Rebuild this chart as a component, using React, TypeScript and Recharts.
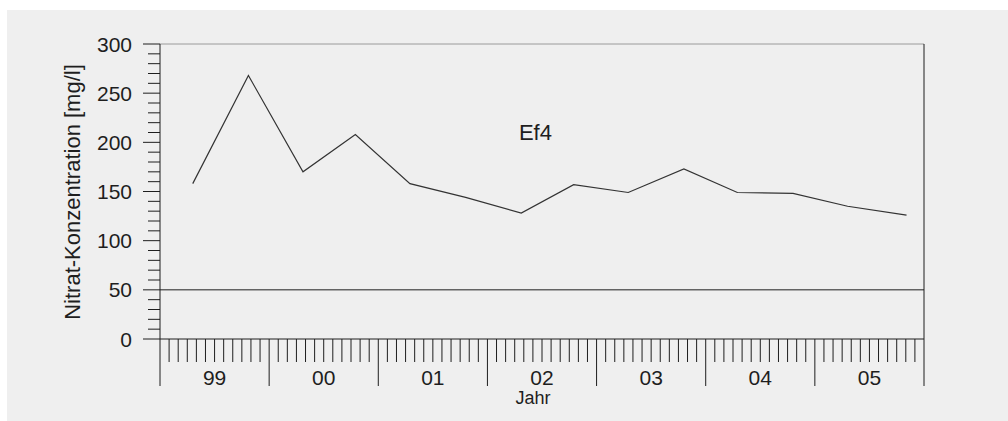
import React from 'react';
import { LineChart, Line, XAxis, YAxis, ReferenceLine, ReferenceDot } from 'recharts';

const sampleTimes = [1999.30, 1999.81, 2000.31, 2000.79, 2001.29, 2001.80, 2002.31, 2002.79, 2003.29, 2003.80, 2004.29, 2004.80, 2005.30, 2005.84];
const nitrateValues = [158, 268, 170, 208, 158, 144, 128, 157, 149, 173, 149, 148, 135, 126];
const yearLabels = ['99', '00', '01', '02', '03', '04', '05'];
const yTicks = [0, 10, 20, 30, 40, 50, 60, 70, 80, 90, 100, 110, 120, 130, 140, 150, 160, 170, 180, 190, 200, 210, 220, 230, 240, 250, 260, 270, 280, 290, 300];
const startYear = 1999;
const monthTicks = Array.from({ length: yearLabels.length * 12 + 1 }, (_, k) => startYear + k / 12);
const limitValue = 50;
const stationName = 'Ef4';
const yTitle = 'Nitrat-Konzentration [mg/l]';
const xTitle = 'Jahr';

const data = sampleTimes.map((t, i) => ({ t, v: nitrateValues[i] }));

const FONT = '"Liberation Sans", Arial, Helvetica, sans-serif';
const INK = '#1e1e1e';

const LeftTick = (props: any) => {
  const { x, y, payload } = props;
  const v = payload.value;
  const major = v % 50 === 0;
  return (
    <g>
      <line x1={x - (major ? 17 : 12)} x2={x} y1={y} y2={y} stroke={INK} strokeWidth={1} />
      {major && (
        <text x={x - 28} y={y} textAnchor="end" dominantBaseline="central" fontSize={21} fontFamily={FONT} fill={INK}>
          {v}
        </text>
      )}
    </g>
  );
};

const RightTick = (props: any) => {
  const { x, y, payload } = props;
  const v = payload.value;
  const major = v % 50 === 0;
  return <line x1={x} x2={x + (major ? 18 : 11)} y1={y} y2={y} stroke={INK} strokeWidth={1} />;
};

const BottomTick = (props: any) => {
  const { x, y, payload } = props;
  const k = Math.round((payload.value - startYear) * 12);
  const major = k % 12 === 0;
  const labelIdx = Math.floor(k / 12);
  return (
    <g>
      <line x1={x} x2={x} y1={y} y2={y + (major ? 47 : 23)} stroke={INK} strokeWidth={1} />
      {k % 12 === 6 && (
        <text x={x} y={y + 38} textAnchor="middle" dominantBaseline="central" fontSize={21} fontFamily={FONT} fill={INK}>
          {yearLabels[labelIdx]}
        </text>
      )}
    </g>
  );
};

export default function App() {
  return (
    <div style={{ position: 'fixed', left: 0, top: 0, width: 1008, height: 421, background: '#ffffff' }}>
      <div style={{ position: 'absolute', left: 7, top: 10, right: 0, bottom: 0, background: '#efefef' }} />
      <div style={{ position: 'absolute', left: 0, top: 0 }}>
        <LineChart width={1008} height={421} data={data} margin={{ top: 44, right: 0, bottom: 0, left: 0 }}>
          <XAxis
            dataKey="t"
            type="number"
            domain={[startYear, startYear + yearLabels.length]}
            ticks={monthTicks}
            interval={0}
            height={82}
            tickSize={0}
            tickMargin={0}
            tickLine={false}
            tick={BottomTick}
            axisLine={{ stroke: INK }}
            allowDataOverflow
            label={{
              content: () => (
                <text x={533} y={398} textAnchor="middle" dominantBaseline="central" fontSize={18} fontFamily={FONT} fill={INK}>
                  {xTitle}
                </text>
              ),
            }}
          />
          <YAxis
            yAxisId="left"
            domain={[0, 300]}
            ticks={yTicks}
            interval={0}
            width={160}
            tickSize={0}
            tickMargin={0}
            tickLine={false}
            tick={LeftTick}
            axisLine={{ stroke: INK }}
            label={{
              content: () => (
                <text x={72} y={192} transform="rotate(-90 72 192)" textAnchor="middle" dominantBaseline="central" fontSize={22} fontFamily={FONT} fill={INK}>
                  {yTitle}
                </text>
              ),
            }}
          />
          <YAxis
            yAxisId="right"
            orientation="right"
            domain={[0, 300]}
            ticks={yTicks}
            interval={0}
            width={84}
            tickSize={0}
            tickMargin={0}
            tickLine={false}
            tick={RightTick}
            axisLine={{ stroke: INK }}
          />
          <ReferenceLine yAxisId="left" y={300} stroke="#9a9a9a" strokeWidth={1} />
          <ReferenceLine yAxisId="left" y={limitValue} stroke={INK} strokeWidth={1} />
          <ReferenceDot
            yAxisId="left"
            x={2002.44}
            y={210}
            r={0}
            fill="none"
            stroke="none"
            label={{ value: stationName, position: 'center', fontSize: 22, fontFamily: FONT, fill: INK }}
          />
          <Line
            yAxisId="left"
            type="linear"
            dataKey="v"
            stroke="#333333"
            strokeWidth={1.2}
            dot={false}
            activeDot={false}
            isAnimationActive={false}
          />
        </LineChart>
      </div>
    </div>
  );
}
